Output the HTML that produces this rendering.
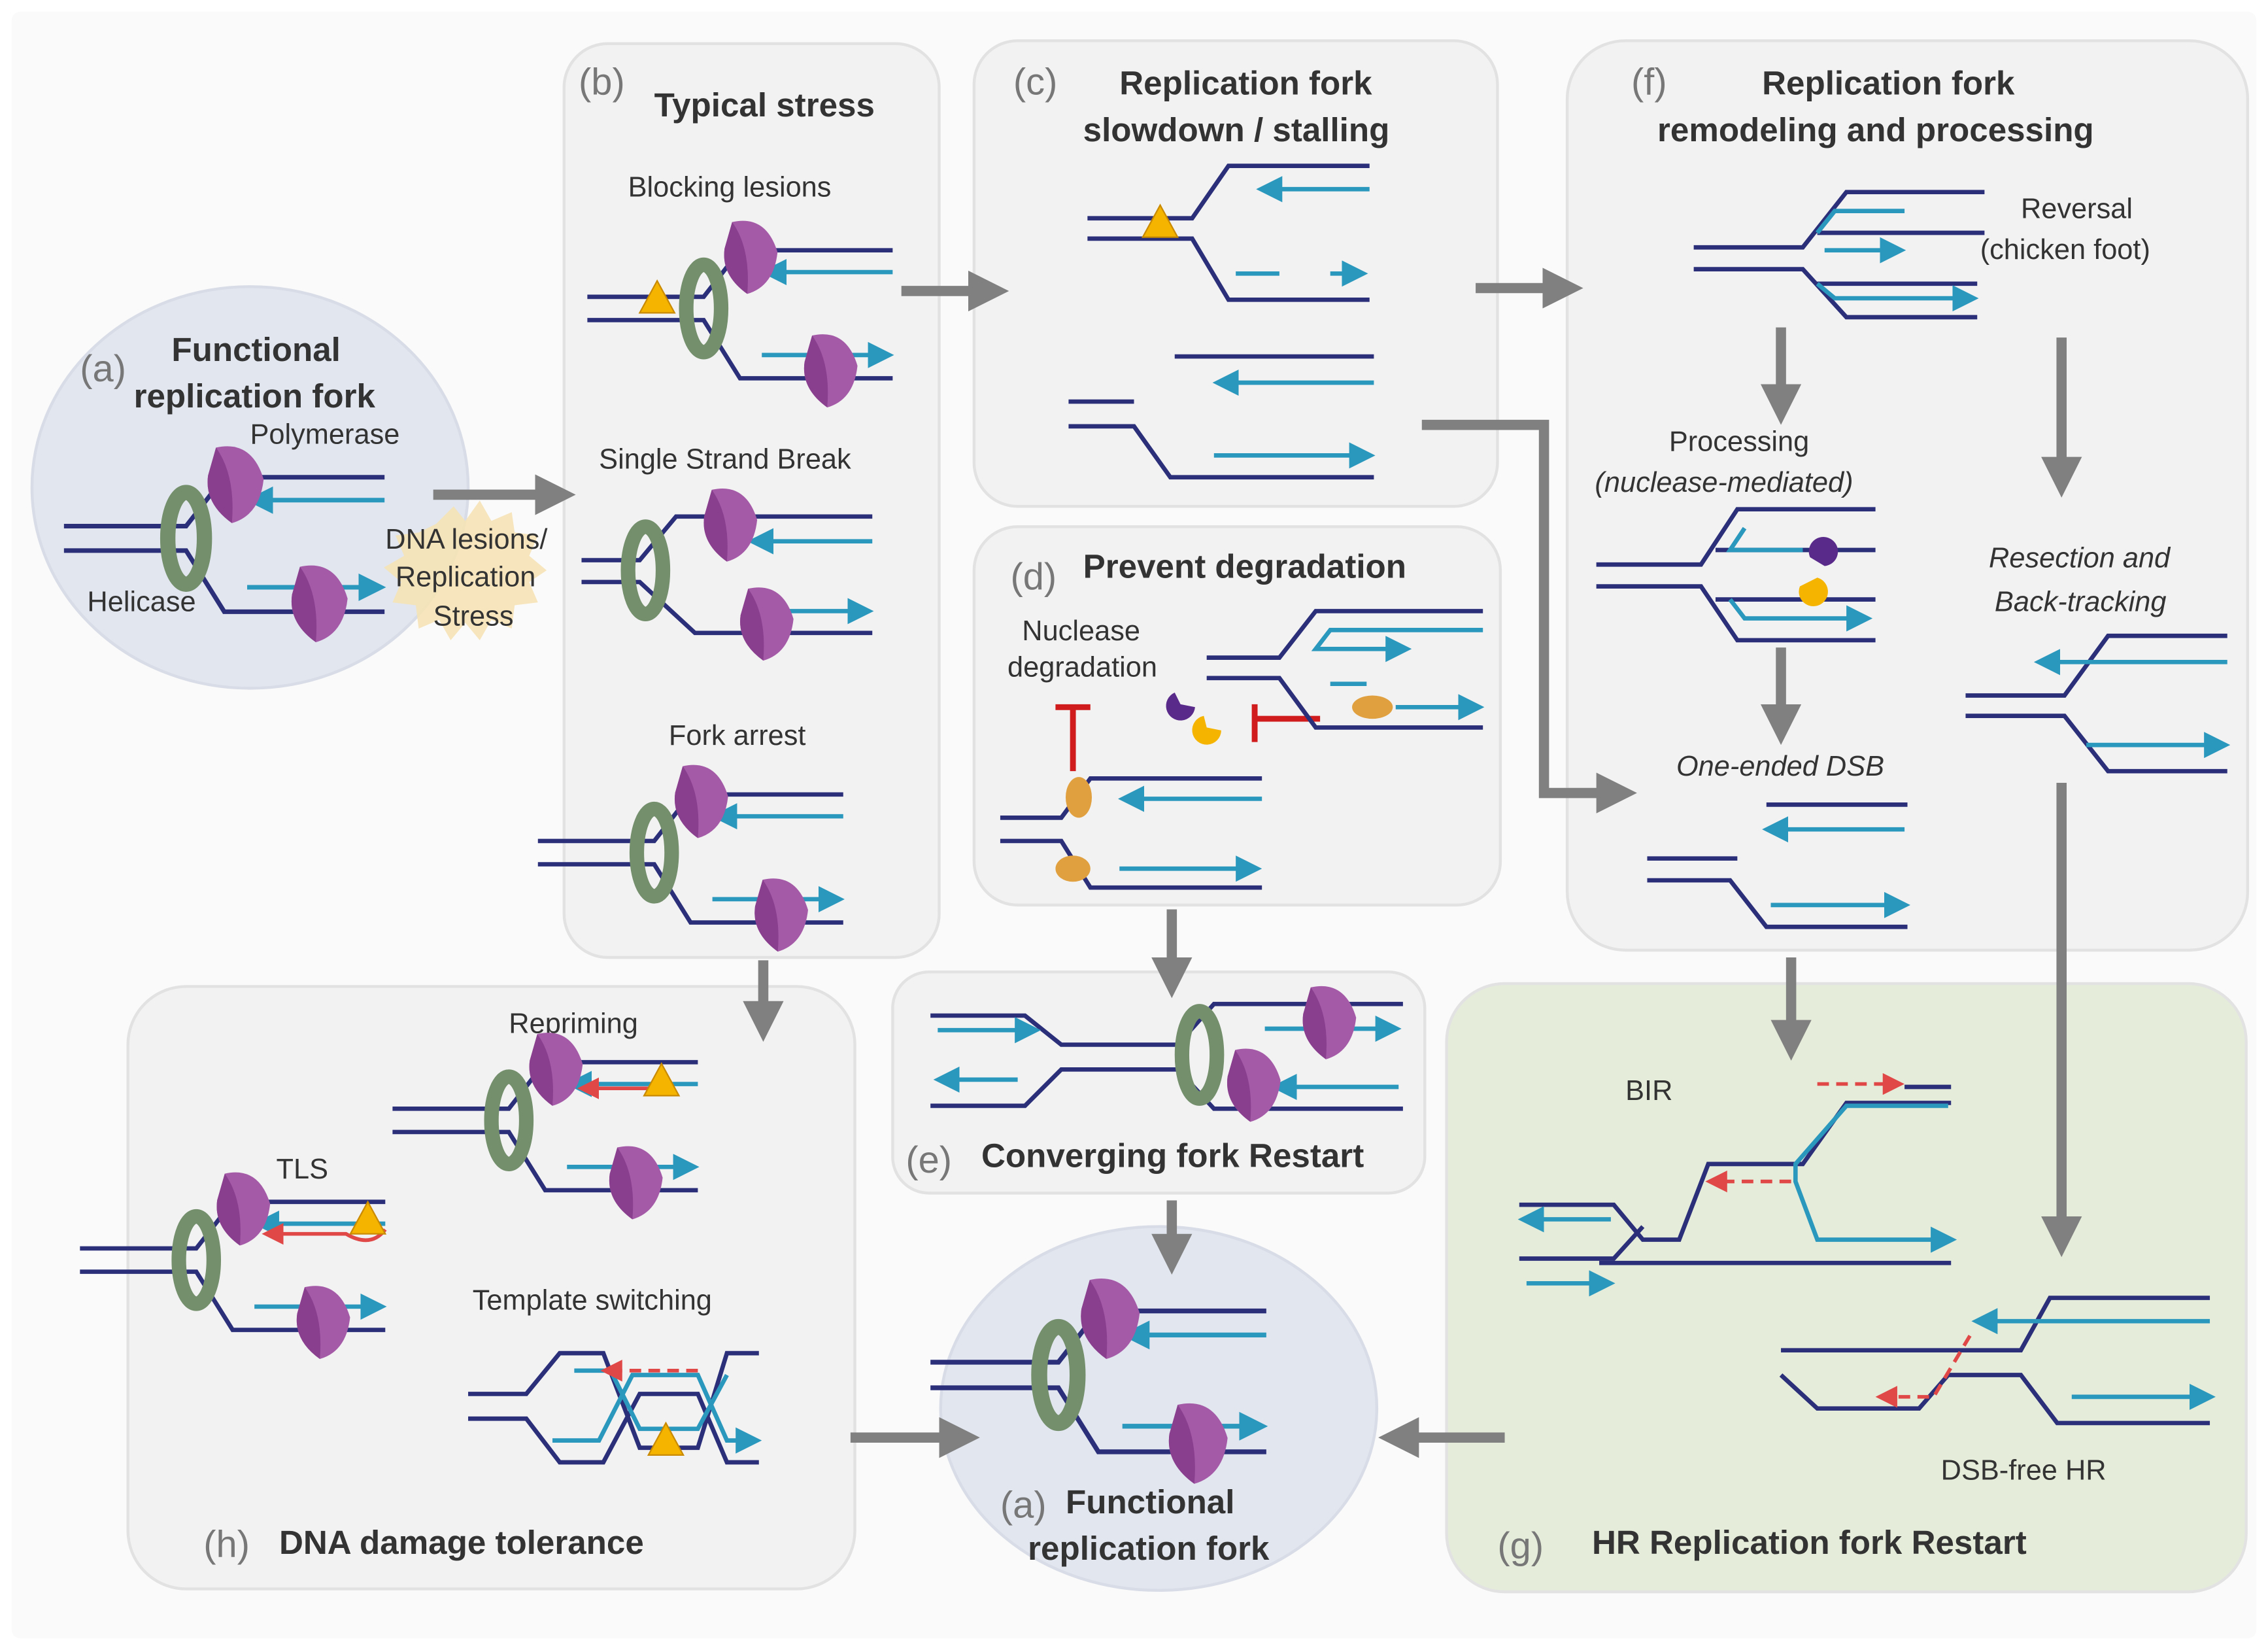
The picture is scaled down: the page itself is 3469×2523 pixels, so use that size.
<!DOCTYPE html>
<html><head><meta charset="utf-8"><style>
html,body{margin:0;padding:0;background:#fff}
svg{display:block}
text{font-family:"Liberation Sans",Arial,sans-serif;fill:#333}
.t{font-weight:bold;font-size:23px;fill:#333}
.l{font-size:19.5px;fill:#333}
.p{font-size:26px;fill:#777}
.d{stroke:#2b2f7a;stroke-width:3;fill:none}
.c{stroke:#2a97bd;stroke-width:3;fill:none}
.g{stroke:#808080;stroke-width:7;fill:none}
.r{stroke:#e04848;stroke-width:2.5;fill:none}
</style></head><body>
<svg width="3469" height="2523" viewBox="0 0 1560 1134" preserveAspectRatio="none" xmlns="http://www.w3.org/2000/svg">
<defs>
<marker id="ca" markerWidth="6" markerHeight="6" refX="4" refY="3" orient="auto" markerUnits="strokeWidth"><path d="M0,0L6,3L0,6z" fill="#2a97bd"/></marker>
<marker id="ga" markerWidth="4" markerHeight="4" refX="2" refY="2" orient="auto" markerUnits="strokeWidth"><path d="M0,0L4,2L0,4z" fill="#808080"/></marker>
<marker id="ra" markerWidth="6" markerHeight="6" refX="4" refY="3" orient="auto" markerUnits="strokeWidth"><path d="M0,0L6,3L0,6z" fill="#e04848"/></marker>
<g id="pol"><g transform="scale(1.3)"><path d="M-8,-18 Q10,-22 16,-2 Q14,16 0,20 Q-14,10 -12,-4z" fill="#a55aa8"/><path d="M-8,-18 Q2,-4 0,20 Q-14,10 -12,-4z" fill="#8a3e8e"/></g></g>
<g id="hel"><ellipse cx="0" cy="0" rx="12" ry="30" fill="none" stroke="#748f6c" stroke-width="10"/></g>
<g id="tri"><path d="M0,-12L12,10L-12,10z" fill="#f5b400" stroke="#c98a00" stroke-width="1"/></g>
<g id="fork">
<path class="d" d="M-80,-8H0L25,-40H130 M-80,8H0L25,48H130"/>
<path class="c" d="M130,-25H45" marker-end="url(#ca)"/>
<path class="c" d="M40,32H75 M95,32H125" marker-end="url(#ca)"/>
<use href="#hel"/><use href="#pol" x="30" y="-36"/><use href="#pol" x="85" y="42"/>
</g>
</defs>
<rect width="1560" height="1134" fill="#fff"/>
<rect x="8" y="8" width="1544" height="1118" fill="#fafafa" rx="6"/>
<g fill="#f2f2f2" stroke="#e2e2e2" stroke-width="2">
<rect x="388" y="30" width="258" height="628" rx="30"/>
<rect x="670" y="28" width="360" height="320" rx="30"/>
<rect x="670" y="362" width="362" height="260" rx="30"/>
<rect x="1078" y="28" width="468" height="625" rx="40"/>
<rect x="614" y="668" width="366" height="152" rx="25"/>
<rect x="88" y="678" width="500" height="414" rx="40"/>
<rect x="995" y="676" width="550" height="418" rx="40" fill="#e5edda"/>
</g>
<ellipse cx="172" cy="335" rx="150" ry="138" fill="#e1e6ef" stroke="#d8dce6" stroke-width="2"/>
<ellipse cx="797" cy="968" rx="150" ry="125" fill="#e1e6ef" stroke="#d8dce6" stroke-width="2"/>
<text class="p" x="55" y="262">(a)</text>
<text class="t" x="118" y="248">Functional</text>
<text class="t" x="92" y="280">replication fork</text>
<text class="l" x="172" y="305" font-size="17">Polymerase</text>
<text class="l" x="60" y="420" font-size="17">Helicase</text>
<g transform="translate(128,370) scale(1.05)"><use href="#fork"/></g>
<path d="M300,360l12,-12 8,10 10,-14 8,14 14,-6 2,14 16,2 -6,14 12,10 -12,8 6,14 -16,2 -2,16 -14,-6 -8,14 -10,-12 -10,12 -8,-14 -14,6 -2,-16 -16,-2 6,-14 -12,-10 14,-8 -6,-14 16,-2z" fill="#f6e3b6" opacity="0.9"/>
<text class="l" x="265" y="377">DNA lesions/</text>
<text class="l" x="272" y="403">Replication</text>
<text class="l" x="298" y="430">Stress</text>
<path class="g" d="M298,340H382" marker-end="url(#ga)"/>
<text class="p" x="398" y="65">(b)</text>
<text class="t" x="450" y="80">Typical stress</text>
<text class="l" x="432" y="135">Blocking lesions</text>
<use href="#fork" x="484" y="212"/><use href="#tri" x="452" y="205"/>
<text class="l" x="412" y="322">Single Strand Break</text>
<path class="d" d="M400,385H440L465,355H600 M400,400H440L478,435H600"/>
<path class="c" d="M600,372H520" marker-end="url(#ca)"/><path class="c" d="M540,420H595" marker-end="url(#ca)"/>
<use href="#hel" x="444" y="392"/><use href="#pol" x="500" y="360"/><use href="#pol" x="525" y="428"/>
<text class="l" x="460" y="512">Fork arrest</text>
<use href="#fork" x="450" y="586"/>
<text class="p" x="697" y="65">(c)</text>
<text class="t" x="770" y="65">Replication fork</text>
<text class="t" x="745" y="97">slowdown / stalling</text>
<path class="d" d="M748,150H820L845,114H942 M748,164H820L845,206H942"/>
<path class="c" d="M942,130H870" marker-end="url(#ca)"/><path class="c" d="M850,188H880 M915,188H935" marker-end="url(#ca)"/>
<use href="#tri" x="798" y="153"/>
<path class="d" d="M808,245H945 M735,276H780 M735,293H780L805,328H945"/>
<path class="c" d="M945,263H840" marker-end="url(#ca)"/><path class="c" d="M835,313H940" marker-end="url(#ca)"/>
<path class="g" d="M620,200H680" marker-end="url(#ga)"/>
<path class="g" d="M1015,198H1075" marker-end="url(#ga)"/>
<path class="g" d="M978,292H1062V545H1112" marker-end="url(#ga)"/>
<text class="p" x="695" y="405">(d)</text>
<text class="t" x="745" y="397">Prevent degradation</text>
<text class="l" x="703" y="440" font-size="17">Nuclease</text>
<text class="l" x="693" y="465" font-size="17">degradation</text>
<path d="M738,486V530 M726,486H750" stroke="#d01c1c" stroke-width="4" fill="none"/>
<path d="M908,494H865 M863,484V510" stroke="#d01c1c" stroke-width="4" fill="none"/>
<path d="M808,476a10,10 0 1,0 14,10l-10,-2z" fill="#5a2a8a"/><path d="M828,492a10,10 0 1,0 12,10l-10,-2z" fill="#f5b400"/>
<path class="d" d="M830,452H880L905,420H1020 M830,466H880L905,500H1020"/>
<path class="c" d="M1020,433H915L905,446H965" marker-end="url(#ca)"/><path class="c" d="M960,486H1015" marker-end="url(#ca)"/>
<path class="c" d="M915,470H940"/>
<ellipse cx="944" cy="486" rx="14" ry="8" fill="#e0a040"/>
<path class="d" d="M688,562H730L750,535H868 M688,578H730L750,610H868"/>
<path class="c" d="M868,549H775" marker-end="url(#ca)"/><path class="c" d="M770,597H862" marker-end="url(#ca)"/>
<ellipse cx="742" cy="548" rx="9" ry="14" fill="#e0a040"/><ellipse cx="738" cy="597" rx="12" ry="9" fill="#e0a040"/>
<path class="g" d="M806,625V672" marker-end="url(#ga)"/>
<path class="d" d="M640,698H705L730,718H810L835,690H965 M640,760H705L730,735H810L835,762H965"/>
<path class="c" d="M645,708H710" marker-end="url(#ca)"/><path class="c" d="M700,742H648" marker-end="url(#ca)"/>
<path class="c" d="M870,707H898 M925,707H958" marker-end="url(#ca)"/><path class="c" d="M962,747H880" marker-end="url(#ca)"/>
<use href="#hel" x="825" y="725"/><use href="#pol" x="912" y="702"/><use href="#pol" x="860" y="745"/>
<text class="p" x="623" y="806">(e)</text>
<text class="t" x="675" y="802">Converging fork Restart</text>
<path class="g" d="M806,825V862" marker-end="url(#ga)"/>
<g transform="translate(728,945) scale(1.1)"><use href="#fork"/></g>
<text class="p" x="688" y="1043">(a)</text>
<text class="t" x="733" y="1040">Functional</text>
<text class="t" x="707" y="1072">replication fork</text>
<text class="p" x="1122" y="65">(f)</text>
<text class="t" x="1212" y="65">Replication fork</text>
<text class="t" x="1140" y="97">remodeling and processing</text>
<path class="d" d="M1165,170H1240L1270,132H1365 M1165,185H1240L1270,218H1360 M1250,160H1365 M1250,195H1360"/>
<path class="c" d="M1310,145H1262L1250,160 M1255,172H1305" marker-end="url(#ca)"/><path class="c" d="M1250,195L1262,205H1355" marker-end="url(#ca)"/>
<text class="l" x="1390" y="150">Reversal</text>
<text class="l" x="1362" y="178">(chicken foot)</text>
<path class="g" d="M1225,225V278" marker-end="url(#ga)"/>
<path class="g" d="M1418,232V328" marker-end="url(#ga)"/>
<text class="l" x="1148" y="310">Processing</text>
<text class="l" x="1097" y="338" font-style="italic">(nuclease-mediated)</text>
<path class="d" d="M1098,388H1170L1195,350H1290 M1098,403H1170L1195,440H1290 M1180,378H1290 M1180,412H1290"/>
<path class="c" d="M1200,363L1190,378H1240 M1190,412L1200,425H1282" marker-end="url(#ca)"/>
<path d="M1245,383a10,10 0 1,1 10,6z" fill="#5a2a8a"/><path d="M1238,403a10,10 0 1,0 12,-6z" fill="#f5b400"/>
<path class="g" d="M1225,445V498" marker-end="url(#ga)"/>
<text class="l" x="1153" y="533" font-style="italic">One-ended DSB</text>
<path class="d" d="M1215,553H1312 M1133,590H1195 M1133,605H1190L1215,637H1312"/>
<path class="c" d="M1310,570H1218" marker-end="url(#ca)"/><path class="c" d="M1218,622H1308" marker-end="url(#ca)"/>
<text class="l" x="1368" y="390" font-style="italic">Resection and</text>
<text class="l" x="1372" y="420" font-style="italic">Back-tracking</text>
<path class="d" d="M1352,478H1420L1450,437H1532 M1352,492H1420L1450,530H1532"/>
<path class="c" d="M1532,455H1405" marker-end="url(#ca)"/><path class="c" d="M1435,512H1528" marker-end="url(#ca)"/>
<path class="g" d="M1418,538V850" marker-end="url(#ga)"/>
<path class="g" d="M1232,658V715" marker-end="url(#ga)"/>
<text class="l" x="1118" y="756">BIR</text>
<path class="d" d="M1045,828H1110L1130,852H1155L1175,800H1240L1270,758H1342 M1045,865H1110L1130,843"/>
<path class="d" d="M1310,747H1342 M1100,868H1342"/>
<path class="c" d="M1108,838H1050" marker-end="url(#ca)"/><path class="c" d="M1050,882H1105" marker-end="url(#ca)"/>
<path class="c" d="M1340,760H1270L1235,800V812L1250,852H1340" marker-end="url(#ca)"/>
<path class="r" d="M1250,745H1305" stroke-dasharray="8,5" marker-end="url(#ra)"/>
<path class="r" d="M1232,812H1178" stroke-dasharray="8,5" marker-end="url(#ra)"/>
<path class="d" d="M1225,928H1390L1410,892H1520 M1225,945L1250,968H1320L1340,945H1390L1415,978H1520"/>
<path class="c" d="M1520,908H1362" marker-end="url(#ca)"/><path class="c" d="M1425,960H1518" marker-end="url(#ca)"/>
<path class="r" d="M1355,918L1330,960H1295" stroke-dasharray="8,5" marker-end="url(#ra)"/>
<text class="l" x="1335" y="1017">DSB-free HR</text>
<text class="p" x="1030" y="1071">(g)</text>
<text class="t" x="1095" y="1068">HR Replication fork Restart</text>
<path class="g" d="M1035,988H962" marker-end="url(#ga)"/>
<path class="g" d="M525,660V702" marker-end="url(#ga)"/>
<text class="l" x="350" y="710">Repriming</text>
<use href="#fork" x="350" y="770"/>
<path class="r" d="M450,748H402" marker-end="url(#ra)"/><use href="#tri" x="455" y="743"/>
<text class="l" x="190" y="810">TLS</text>
<use href="#fork" x="135" y="866"/>
<path class="r" d="M265,845 Q255,858 238,848H185" marker-end="url(#ra)"/><use href="#tri" x="253" y="838"/>
<text class="l" x="325" y="900">Template switching</text>
<path class="d" d="M322,958H362L385,930H415L440,995H480L500,930H522 M322,975H362L385,1005H415L440,958H480L500,1005H522"/>
<path class="c" d="M395,942H420L440,982H480L500,945 M380,990H412L435,945H480L500,990H518" marker-end="url(#ca)"/>
<path class="r" d="M480,942H418" stroke-dasharray="8,5" marker-end="url(#ra)"/>
<use href="#tri" x="458" y="990"/>
<text class="p" x="140" y="1070">(h)</text>
<text class="t" x="192" y="1068">DNA damage tolerance</text>
<path class="g" d="M585,988H660" marker-end="url(#ga)"/>
</svg>
</body></html>
